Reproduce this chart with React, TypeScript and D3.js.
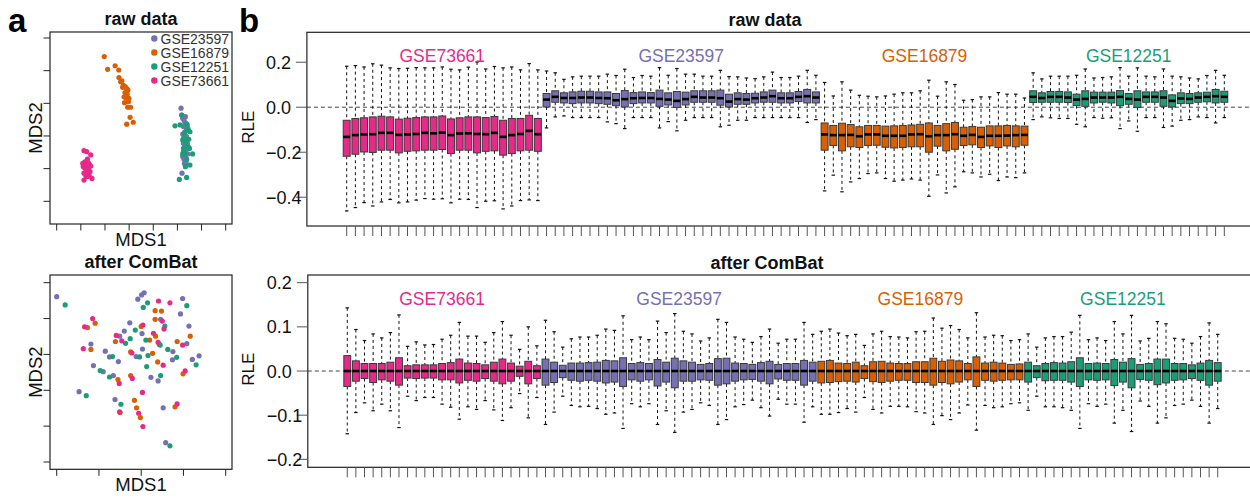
import React, { useEffect, useRef } from "react";
import * as d3 from "d3";

const FONT = "'Liberation Sans', Arial, Helvetica, sans-serif";

const studies = ["GSE73661", "GSE23597", "GSE16879", "GSE12251"];
const studyColors = ["#E7298A", "#7570B3", "#D95F02", "#1B9E77"];
const studySizes = [23, 32, 24, 23];
const legendStudies = ["GSE23597", "GSE16879", "GSE12251", "GSE73661"];

// ---- RLE box statistics, raw data (order: GSE73661, GSE23597, GSE16879, GSE12251)
const rawHi = [
  0.182, 0.185, 0.179, 0.193, 0.187, 0.175, 0.172, 0.173, 0.176, 0.175, 0.175, 0.179, 0.169, 0.166, 0.178, 0.201, 0.17, 0.181, 0.175, 0.179, 0.166, 0.194, 0.166,
  0.161, 0.153, 0.124, 0.135, 0.138, 0.138, 0.138, 0.147, 0.141, 0.169, 0.132, 0.141, 0.138, 0.176, 0.142, 0.172, 0.147, 0.147, 0.138, 0.138, 0.164, 0.136, 0.135, 0.13, 0.127, 0.135, 0.156, 0.132, 0.132, 0.138, 0.164, 0.142,
  0.11, 0.05, 0.113, 0.076, 0.053, 0.049, 0.046, 0.05, 0.058, 0.064, 0.064, 0.073, 0.12, 0.049, 0.113, 0.101, 0.031, 0.034, 0.046, 0.046, 0.065, 0.058, 0.058, 0.041,
  0.153, 0.126, 0.138, 0.138, 0.138, 0.142, 0.17, 0.13, 0.132, 0.135, 0.176, 0.138, 0.175, 0.138, 0.135, 0.17, 0.138, 0.135, 0.13, 0.126, 0.141, 0.164, 0.142,
];
const rawQ3 = [
  -0.058, -0.05, -0.047, -0.043, -0.04, -0.043, -0.053, -0.049, -0.046, -0.043, -0.043, -0.039, -0.052, -0.047, -0.043, -0.043, -0.046, -0.041, -0.058, -0.05, -0.05, -0.036, -0.05,
  0.061, 0.073, 0.064, 0.068, 0.071, 0.071, 0.068, 0.068, 0.061, 0.074, 0.065, 0.068, 0.065, 0.076, 0.064, 0.07, 0.067, 0.073, 0.073, 0.073, 0.076, 0.058, 0.064, 0.061, 0.062, 0.068, 0.076, 0.064, 0.064, 0.07, 0.079, 0.068,
  -0.07, -0.081, -0.071, -0.077, -0.087, -0.081, -0.081, -0.084, -0.083, -0.081, -0.079, -0.076, -0.07, -0.081, -0.073, -0.068, -0.089, -0.086, -0.089, -0.083, -0.083, -0.081, -0.083, -0.084,
  0.073, 0.064, 0.07, 0.07, 0.068, 0.058, 0.073, 0.067, 0.067, 0.067, 0.074, 0.061, 0.073, 0.068, 0.068, 0.073, 0.055, 0.064, 0.061, 0.064, 0.067, 0.079, 0.071,
];
const rawMed = [
  -0.132, -0.124, -0.121, -0.12, -0.114, -0.114, -0.123, -0.121, -0.119, -0.114, -0.116, -0.113, -0.124, -0.117, -0.116, -0.119, -0.12, -0.114, -0.132, -0.124, -0.119, -0.105, -0.12,
  0.034, 0.046, 0.041, 0.041, 0.043, 0.043, 0.041, 0.04, 0.031, 0.036, 0.04, 0.041, 0.041, 0.037, 0.034, 0.028, 0.036, 0.046, 0.043, 0.043, 0.04, 0.025, 0.036, 0.034, 0.04, 0.043, 0.049, 0.04, 0.04, 0.046, 0.049, 0.043,
  -0.121, -0.124, -0.124, -0.123, -0.129, -0.121, -0.121, -0.127, -0.127, -0.127, -0.121, -0.12, -0.129, -0.124, -0.124, -0.12, -0.127, -0.123, -0.132, -0.127, -0.127, -0.126, -0.124, -0.123,
  0.046, 0.041, 0.046, 0.046, 0.043, 0.034, 0.037, 0.043, 0.043, 0.043, 0.046, 0.037, 0.034, 0.046, 0.046, 0.043, 0.028, 0.039, 0.037, 0.043, 0.046, 0.049, 0.046,
];
const rawQ1 = [
  -0.218, -0.209, -0.199, -0.201, -0.191, -0.191, -0.203, -0.196, -0.194, -0.191, -0.191, -0.188, -0.206, -0.191, -0.191, -0.203, -0.196, -0.194, -0.213, -0.206, -0.194, -0.191, -0.196,
  0.001, 0.022, 0.019, 0.016, 0.019, 0.019, 0.016, 0.013, 0.007, 0.001, 0.016, 0.019, 0.019, 0.004, 0.01, -0.001, 0.01, 0.022, 0.022, 0.022, 0.009, 0.001, 0.013, 0.013, 0.019, 0.022, 0.022, 0.019, 0.019, 0.025, 0.019, 0.019,
  -0.191, -0.17, -0.194, -0.176, -0.179, -0.17, -0.169, -0.178, -0.181, -0.179, -0.176, -0.176, -0.2, -0.173, -0.194, -0.187, -0.17, -0.167, -0.179, -0.172, -0.179, -0.172, -0.176, -0.169,
  0.021, 0.022, 0.022, 0.022, 0.021, 0.007, 0.004, 0.019, 0.022, 0.019, 0.007, 0.013, -0.001, 0.022, 0.022, 0.004, 0.001, 0.016, 0.016, 0.022, 0.024, 0.019, 0.022,
];
const rawLo = [
  -0.461, -0.446, -0.424, -0.439, -0.421, -0.41, -0.425, -0.421, -0.413, -0.406, -0.409, -0.407, -0.425, -0.409, -0.41, -0.446, -0.418, -0.416, -0.452, -0.439, -0.415, -0.412, -0.415,
  -0.092, -0.043, -0.039, -0.046, -0.046, -0.046, -0.046, -0.065, -0.073, -0.095, -0.046, -0.046, -0.046, -0.092, -0.064, -0.105, -0.058, -0.046, -0.046, -0.046, -0.087, -0.08, -0.058, -0.058, -0.046, -0.046, -0.046, -0.046, -0.046, -0.046, -0.068, -0.055,
  -0.372, -0.302, -0.376, -0.332, -0.317, -0.295, -0.292, -0.317, -0.329, -0.324, -0.319, -0.324, -0.396, -0.301, -0.381, -0.354, -0.287, -0.292, -0.31, -0.298, -0.326, -0.31, -0.313, -0.292,
  -0.055, -0.043, -0.047, -0.05, -0.05, -0.076, -0.087, -0.046, -0.049, -0.047, -0.095, -0.061, -0.107, -0.046, -0.046, -0.09, -0.084, -0.058, -0.055, -0.043, -0.046, -0.07, -0.046,
];

// ---- RLE box statistics after ComBat
const afterHi = [
  0.143, 0.094, 0.069, 0.084, 0.075, 0.087, 0.127, 0.056, 0.066, 0.059, 0.06, 0.072, 0.081, 0.11, 0.079, 0.079, 0.065, 0.087, 0.112, 0.081, 0.049, 0.1, 0.057,
  0.115, 0.089, 0.054, 0.073, 0.077, 0.077, 0.081, 0.095, 0.092, 0.125, 0.071, 0.077, 0.071, 0.113, 0.087, 0.13, 0.09, 0.084, 0.068, 0.075, 0.117, 0.11, 0.077, 0.072, 0.065, 0.078, 0.095, 0.063, 0.072, 0.072, 0.11, 0.083,
  0.09, 0.095, 0.086, 0.08, 0.083, 0.058, 0.084, 0.09, 0.078, 0.077, 0.075, 0.089, 0.09, 0.12, 0.097, 0.103, 0.094, 0.075, 0.132, 0.077, 0.081, 0.08, 0.069, 0.071,
  0.084, 0.054, 0.075, 0.078, 0.078, 0.088, 0.126, 0.071, 0.075, 0.069, 0.112, 0.084, 0.126, 0.068, 0.074, 0.112, 0.107, 0.074, 0.072, 0.063, 0.078, 0.109, 0.083,
];
const afterQ3 = [
  0.035, 0.023, 0.017, 0.017, 0.017, 0.02, 0.03, 0.012, 0.014, 0.014, 0.014, 0.017, 0.019, 0.027, 0.018, 0.017, 0.014, 0.02, 0.027, 0.018, 0.011, 0.022, 0.012,
  0.027, 0.02, 0.013, 0.018, 0.018, 0.019, 0.02, 0.024, 0.023, 0.03, 0.017, 0.019, 0.017, 0.026, 0.02, 0.029, 0.023, 0.02, 0.015, 0.017, 0.028, 0.029, 0.018, 0.017, 0.015, 0.019, 0.022, 0.015, 0.017, 0.017, 0.024, 0.02,
  0.022, 0.024, 0.018, 0.017, 0.02, 0.012, 0.021, 0.022, 0.018, 0.017, 0.017, 0.021, 0.021, 0.029, 0.022, 0.025, 0.023, 0.017, 0.032, 0.018, 0.02, 0.018, 0.015, 0.016,
  0.02, 0.012, 0.017, 0.019, 0.018, 0.021, 0.03, 0.017, 0.018, 0.017, 0.026, 0.02, 0.028, 0.015, 0.017, 0.027, 0.027, 0.017, 0.017, 0.014, 0.018, 0.024, 0.019,
];
const afterMed = [
  0, 0, 0, 0, 0, 0, 0, 0, 0, 0, 0, 0, 0, 0, 0, 0, 0, 0, 0, 0, 0, 0, 0,
  0, 0, 0, 0, 0, 0, 0, 0, 0, 0, 0, 0, 0, 0, 0, 0, 0, 0, 0, 0, 0, 0, 0, 0, 0, 0, 0, 0, 0, 0, 0, 0,
  0, 0, 0, 0, 0, 0, 0, 0, 0, 0, 0, 0, 0, 0, 0, 0, 0, 0, 0, 0, 0, 0, 0, 0,
  0, 0, 0, 0, 0, 0, 0, 0, 0, 0, 0, 0, 0, 0, 0, 0, 0, 0, 0, 0, 0, 0, 0,
];
const afterQ1 = [
  -0.035, -0.023, -0.017, -0.026, -0.02, -0.023, -0.032, -0.016, -0.017, -0.016, -0.016, -0.02, -0.02, -0.027, -0.021, -0.023, -0.017, -0.023, -0.029, -0.023, -0.012, -0.029, -0.017,
  -0.032, -0.026, -0.015, -0.021, -0.023, -0.021, -0.023, -0.027, -0.025, -0.035, -0.02, -0.023, -0.02, -0.034, -0.025, -0.038, -0.023, -0.023, -0.02, -0.021, -0.032, -0.029, -0.023, -0.02, -0.019, -0.023, -0.029, -0.018, -0.021, -0.021, -0.032, -0.023,
  -0.027, -0.026, -0.024, -0.023, -0.025, -0.017, -0.024, -0.026, -0.023, -0.021, -0.021, -0.026, -0.026, -0.032, -0.026, -0.029, -0.025, -0.02, -0.035, -0.021, -0.023, -0.021, -0.02, -0.02,
  -0.025, -0.015, -0.022, -0.021, -0.021, -0.025, -0.035, -0.02, -0.021, -0.02, -0.033, -0.025, -0.038, -0.019, -0.021, -0.031, -0.027, -0.021, -0.02, -0.017, -0.021, -0.032, -0.023,
];
const afterLo = [
  -0.142, -0.094, -0.072, -0.09, -0.075, -0.09, -0.128, -0.057, -0.067, -0.06, -0.06, -0.075, -0.082, -0.109, -0.081, -0.087, -0.067, -0.088, -0.112, -0.083, -0.051, -0.106, -0.06,
  -0.121, -0.093, -0.057, -0.078, -0.081, -0.08, -0.085, -0.098, -0.095, -0.13, -0.074, -0.081, -0.074, -0.121, -0.09, -0.139, -0.093, -0.087, -0.072, -0.078, -0.121, -0.11, -0.081, -0.076, -0.066, -0.083, -0.102, -0.064, -0.075, -0.075, -0.116, -0.081,
  -0.098, -0.098, -0.094, -0.085, -0.093, -0.06, -0.087, -0.095, -0.08, -0.08, -0.081, -0.092, -0.095, -0.121, -0.101, -0.11, -0.095, -0.077, -0.134, -0.078, -0.083, -0.081, -0.074, -0.072,
  -0.089, -0.057, -0.081, -0.081, -0.083, -0.089, -0.13, -0.074, -0.08, -0.075, -0.118, -0.089, -0.137, -0.068, -0.08, -0.118, -0.106, -0.078, -0.075, -0.066, -0.08, -0.118, -0.085,
];

// ---- MDS coordinates (axis tick units), raw data
const rawMdsGSE23597 = [
  [5.15, 2.85], [5.18, 2.64], [5.22, 2.54], [5.27, 2.49], [5.31, 2.41], [5.36, 2.37], [5.25, 2.29], [5.38, 2.23],
  [5.31, 2.13], [5.22, 2.06], [5.38, 1.98], [5.33, 1.9], [5.27, 1.83], [5.41, 1.78], [5.31, 1.67], [5.36, 1.59],
  [5.25, 1.52], [5.43, 1.45], [5.33, 1.37], [5.27, 1.29], [5.36, 1.21], [5.29, 1.16], [5.38, 1.11], [5.19, 0.86],
  [5.3, 2.0], [5.41, 2.34], [5.25, 1.78], [5.34, 1.49], [5.45, 1.67], [5.22, 1.37], [5.33, 2.59], [5.29, 1.67],
];
const rawMdsGSE16879 = [
  [1.97, 4.43], [2.11, 4.04], [2.42, 4.15], [2.57, 4.02], [2.58, 3.79], [2.65, 3.66], [2.7, 3.69], [2.76, 3.55],
  [2.84, 3.51], [2.9, 3.45], [2.95, 3.41], [2.83, 3.33], [2.92, 3.28], [2.87, 3.17], [2.99, 3.15], [2.81, 3.02],
  [2.94, 2.88], [3.06, 2.88], [3.04, 2.57], [2.9, 2.36], [3.17, 2.42], [2.73, 3.49], [2.97, 3.05], [2.79, 3.2],
];
const rawMdsGSE12251 = [
  [5.18, 2.64], [4.9, 2.31], [5.11, 2.34], [5.38, 2.37], [5.45, 2.18], [5.31, 2.1], [5.52, 2.13], [5.22, 1.88],
  [5.41, 1.67], [5.5, 1.62], [5.31, 1.47], [5.22, 1.45], [5.63, 1.45], [5.38, 1.29], [5.52, 1.11], [5.33, 1.06],
  [5.08, 0.67], [5.38, 0.73], [5.27, 1.96], [5.47, 1.9], [5.36, 1.8], [5.25, 1.62], [5.43, 2.23],
];
const rawMdsGSE73661 = [
  [1.13, 1.55], [1.24, 1.52], [1.41, 1.42], [1.27, 1.29], [1.17, 1.21], [1.31, 1.18], [1.21, 1.11], [1.35, 1.14],
  [1.1, 1.06], [1.27, 1.06], [1.41, 1.08], [1.17, 1.01], [1.32, 0.98], [1.24, 0.94], [1.38, 0.91], [1.13, 0.86],
  [1.28, 0.84], [1.21, 0.78], [1.35, 0.78], [1.46, 0.7], [1.13, 0.65], [1.27, 0.76], [1.08, 1.16],
];

// ---- MDS coordinates (axis tick units), after ComBat
const afterMdsGSE23597 = [
  [0.0, 4.61], [2.01, 4.66], [2.07, 4.72], [1.92, 4.54], [2.98, 4.56], [2.93, 4.13], [2.46, 3.98], [1.73, 3.88],
  [3.13, 3.79], [1.6, 3.65], [2.02, 3.58], [1.49, 3.51], [0.81, 3.29], [1.15, 3.09], [2.03, 3.15], [2.75, 3.08],
  [3.08, 3.3], [1.25, 2.93], [1.88, 2.94], [2.74, 2.85], [3.21, 2.86], [3.37, 2.96], [1.46, 2.8], [0.87, 2.69],
  [1.1, 2.52], [1.34, 2.41], [2.23, 2.36], [2.4, 2.26], [0.53, 1.96], [1.38, 1.74], [2.52, 1.51], [2.58, 0.54],
];
const afterMdsGSE16879 = [
  [2.33, 4.22], [2.48, 4.21], [0.91, 3.87], [0.73, 3.75], [2.33, 3.98], [2.0, 3.78], [2.34, 3.51], [3.16, 3.51],
  [1.39, 3.36], [2.2, 3.4], [2.43, 3.28], [0.81, 3.14], [1.75, 3.07], [2.27, 3.03], [2.85, 3.36], [2.39, 2.79],
  [2.99, 2.46], [1.45, 2.3], [1.75, 2.41], [1.84, 1.72], [2.8, 1.54], [1.89, 1.51], [1.5, 1.38], [1.98, 1.24],
];
const afterMdsGSE12251 = [
  [0.2, 4.38], [2.15, 4.44], [2.05, 4.31], [3.08, 4.36], [2.56, 3.79], [1.86, 3.68], [1.74, 3.44], [1.63, 3.31],
  [2.11, 3.4], [2.45, 3.26], [2.63, 3.14], [1.32, 2.94], [1.96, 2.93], [2.16, 2.97], [2.84, 2.92], [2.13, 2.66],
  [3.3, 2.71], [1.03, 2.55], [1.25, 2.37], [2.46, 2.41], [0.7, 1.85], [1.52, 1.61], [2.68, 0.45],
];
const afterMdsGSE73661 = [
  [2.41, 4.49], [2.68, 4.44], [0.85, 4.0], [0.66, 3.77], [2.5, 3.93], [2.54, 3.71], [2.04, 3.82], [1.41, 3.53],
  [2.29, 3.59], [1.54, 3.38], [2.4, 3.34], [0.63, 3.16], [1.78, 3.04], [2.98, 3.26], [2.52, 2.7], [3.04, 2.54],
  [1.79, 2.33], [1.48, 2.19], [2.03, 1.94], [2.85, 1.62], [1.49, 1.4], [1.94, 1.36], [2.04, 0.99],
];

const rawTicks = [0.2, 0, -0.2, -0.4];
const afterTicks = [0.2, 0.1, 0, -0.1, -0.2];

const colorOf = (s: string) => studyColors[studies.indexOf(s)];

function addText(g: any, x: number, y: number, str: string, size: number, opts: any = {}) {
  const t = g
    .append("text")
    .attr("x", x)
    .attr("y", y)
    .attr("font-family", FONT)
    .attr("font-size", size)
    .attr("fill", opts.fill || "#111")
    .attr("text-anchor", opts.anchor || "start")
    .attr("font-weight", opts.bold ? "bold" : "normal")
    .text(str);
  if (opts.rotate) t.attr("transform", `rotate(-90, ${x}, ${y})`);
  return t;
}

function drawBoxPanel(svg: any, cfg: any) {
  const { x0, x1, top, bottom, yDomain, ticks, title, titleX, hi, q3, med, q1, lo } = cfg;
  const n = hi.length;
  const x = d3.scaleLinear().domain([-3.58, n + 4.58]).range([x0, x1]);
  const y = d3.scaleLinear().domain(yDomain).range([bottom, top]);
  const g = svg.append("g");

  // group index for each sample
  const groupOf: number[] = [];
  studySizes.forEach((s, gi) => {
    for (let k = 0; k < s; k++) groupOf.push(gi);
  });

  // zero reference line
  g.append("line")
    .attr("x1", x0).attr("x2", x1)
    .attr("y1", y(0)).attr("y2", y(0))
    .attr("stroke", "#444").attr("stroke-width", 1)
    .attr("stroke-dasharray", "4,3");

  const idx = d3.range(n);
  const bw = 0.8;
  // whiskers
  g.selectAll(".wu").data(idx).enter().append("line")
    .attr("x1", (i: number) => x(i + 1)).attr("x2", (i: number) => x(i + 1))
    .attr("y1", (i: number) => y(hi[i])).attr("y2", (i: number) => y(q3[i]))
    .attr("stroke", "#111").attr("stroke-width", 1).attr("stroke-dasharray", "3,3");
  g.selectAll(".wl").data(idx).enter().append("line")
    .attr("x1", (i: number) => x(i + 1)).attr("x2", (i: number) => x(i + 1))
    .attr("y1", (i: number) => y(q1[i])).attr("y2", (i: number) => y(lo[i]))
    .attr("stroke", "#111").attr("stroke-width", 1).attr("stroke-dasharray", "3,3");
  // staples
  [hi, lo].forEach((arr) => {
    g.append("g").selectAll("line").data(idx).enter().append("line")
      .attr("x1", (i: number) => x(i + 1 - bw / 4)).attr("x2", (i: number) => x(i + 1 + bw / 4))
      .attr("y1", (i: number) => y(arr[i])).attr("y2", (i: number) => y(arr[i]))
      .attr("stroke", "#111").attr("stroke-width", 1.2);
  });
  // boxes
  g.selectAll(".box").data(idx).enter().append("rect")
    .attr("x", (i: number) => x(i + 1 - bw / 2))
    .attr("width", x(bw) - x(0))
    .attr("y", (i: number) => y(q3[i]))
    .attr("height", (i: number) => y(q1[i]) - y(q3[i]))
    .attr("fill", (i: number) => studyColors[groupOf[i]])
    .attr("stroke", "#3a3a3a").attr("stroke-width", 1);
  // medians
  g.selectAll(".med").data(idx).enter().append("line")
    .attr("x1", (i: number) => x(i + 1 - bw / 2)).attr("x2", (i: number) => x(i + 1 + bw / 2))
    .attr("y1", (i: number) => y(med[i])).attr("y2", (i: number) => y(med[i]))
    .attr("stroke", "#000").attr("stroke-width", 2.6);

  // frame
  g.append("rect")
    .attr("x", x0).attr("y", top)
    .attr("width", x1 - x0).attr("height", bottom - top)
    .attr("fill", "none").attr("stroke", "#222").attr("stroke-width", 1.2);

  // bottom ticks (one per sample)
  g.selectAll(".xt").data(idx).enter().append("line")
    .attr("x1", (i: number) => x(i + 1)).attr("x2", (i: number) => x(i + 1))
    .attr("y1", bottom).attr("y2", bottom + 10)
    .attr("stroke", "#555").attr("stroke-width", 1);

  // y axis
  const fmt = d3.format(".1f");
  ticks.forEach((t: number) => {
    g.append("line")
      .attr("x1", x0 - 11).attr("x2", x0)
      .attr("y1", y(t)).attr("y2", y(t))
      .attr("stroke", "#555").attr("stroke-width", 1);
    addText(g, x0 - 41, y(t) + 6.5, fmt(t), 18);
  });
  addText(g, 254, (top + bottom) / 2 - 2, "RLE", 17, { rotate: true, anchor: "middle" });

  // study labels
  let start = 1;
  studySizes.forEach((s, gi) => {
    const mid = start + (s - 1) / 2;
    addText(g, x(mid), top + 29.5, studies[gi], 17.5, { anchor: "middle", fill: studyColors[gi] });
    start += s;
  });

  addText(g, titleX, top - 6, title, 18, { anchor: "middle", bold: true });
}

function drawScatter(svg: any, cfg: any) {
  const { top, bottom, xTicks, yTicks, yRange, title, sets, legend } = cfg;
  const left = 50;
  const right = 232;
  const x = d3.scaleLinear().domain([0, xTicks - 1]).range([56.7, 225.7]);
  const y = d3.scaleLinear().domain([0, yTicks - 1]).range(yRange);
  const g = svg.append("g");

  g.append("rect")
    .attr("x", left).attr("y", top)
    .attr("width", right - left).attr("height", bottom - top)
    .attr("fill", "none").attr("stroke", "#222").attr("stroke-width", 1.2);

  g.selectAll(".xt").data(d3.range(xTicks)).enter().append("line")
    .attr("x1", (d: number) => x(d)).attr("x2", (d: number) => x(d))
    .attr("y1", bottom).attr("y2", bottom + 6.5)
    .attr("stroke", "#222").attr("stroke-width", 1);
  g.selectAll(".yt").data(d3.range(yTicks)).enter().append("line")
    .attr("x1", left - 6.5).attr("x2", left)
    .attr("y1", (d: number) => y(d)).attr("y2", (d: number) => y(d))
    .attr("stroke", "#222").attr("stroke-width", 1);

  sets.forEach(([name, pts]: [string, number[][]]) => {
    g.append("g").selectAll("circle").data(pts).enter().append("circle")
      .attr("cx", (d: number[]) => x(d[0]))
      .attr("cy", (d: number[]) => y(d[1]))
      .attr("r", 2.6)
      .attr("fill", colorOf(name));
  });

  if (legend) {
    legendStudies.forEach((s, i) => {
      const ly = top + 6.5 + i * 14;
      g.append("circle").attr("cx", 154.3).attr("cy", ly).attr("r", 3.2).attr("fill", colorOf(s));
      addText(g, 160.5, ly + 5, s, 14, { fill: "#333" });
    });
  }

  addText(g, 141, top - 7, title, 18, { anchor: "middle", bold: true });
  addText(g, 141, bottom + 21.5, "MDS1", 18.5, { anchor: "middle" });
  addText(g, 42, (top + bottom) / 2, "MDS2", 18.5, { anchor: "middle", rotate: true });
}

export default function App() {
  const ref = useRef<SVGSVGElement>(null);

  useEffect(() => {
    const svg = d3.select(ref.current);
    svg.selectAll("*").remove();
    svg.append("rect").attr("width", 1250).attr("height", 500).attr("fill", "#fff");

    drawScatter(svg, {
      top: 32, bottom: 224, xTicks: 8, yTicks: 6, yRange: [201.3, 38],
      title: "raw data", legend: true,
      sets: [
        ["GSE23597", rawMdsGSE23597],
        ["GSE16879", rawMdsGSE16879],
        ["GSE12251", rawMdsGSE12251],
        ["GSE73661", rawMdsGSE73661],
      ],
    });
    drawScatter(svg, {
      top: 275, bottom: 469.3, xTicks: 5, yTicks: 6, yRange: [462, 282.7],
      title: "after ComBat", legend: false,
      sets: [
        ["GSE23597", afterMdsGSE23597],
        ["GSE16879", afterMdsGSE16879],
        ["GSE12251", afterMdsGSE12251],
        ["GSE73661", afterMdsGSE73661],
      ],
    });

    drawBoxPanel(svg, {
      x0: 306.9, x1: 1264.1, top: 32.3, bottom: 226, yDomain: [-0.528, 0.333],
      ticks: rawTicks, title: "raw data", titleX: 765,
      hi: rawHi, q3: rawQ3, med: rawMed, q1: rawQ1, lo: rawLo,
    });
    drawBoxPanel(svg, {
      x0: 307.8, x1: 1257.2, top: 275, bottom: 467.3, yDomain: [-0.218, 0.2174],
      ticks: afterTicks, title: "after ComBat", titleX: 767,
      hi: afterHi, q3: afterQ3, med: afterMed, q1: afterQ1, lo: afterLo,
    });

    addText(svg, 8, 32, "a", 33, { bold: true, fill: "#000" });
    addText(svg, 239, 32, "b", 33, { bold: true, fill: "#000" });
  }, []);

  return (
    <svg
      ref={ref}
      width={1250}
      height={500}
      style={{ position: "absolute", left: 0, top: 0, display: "block" }}
    />
  );
}
